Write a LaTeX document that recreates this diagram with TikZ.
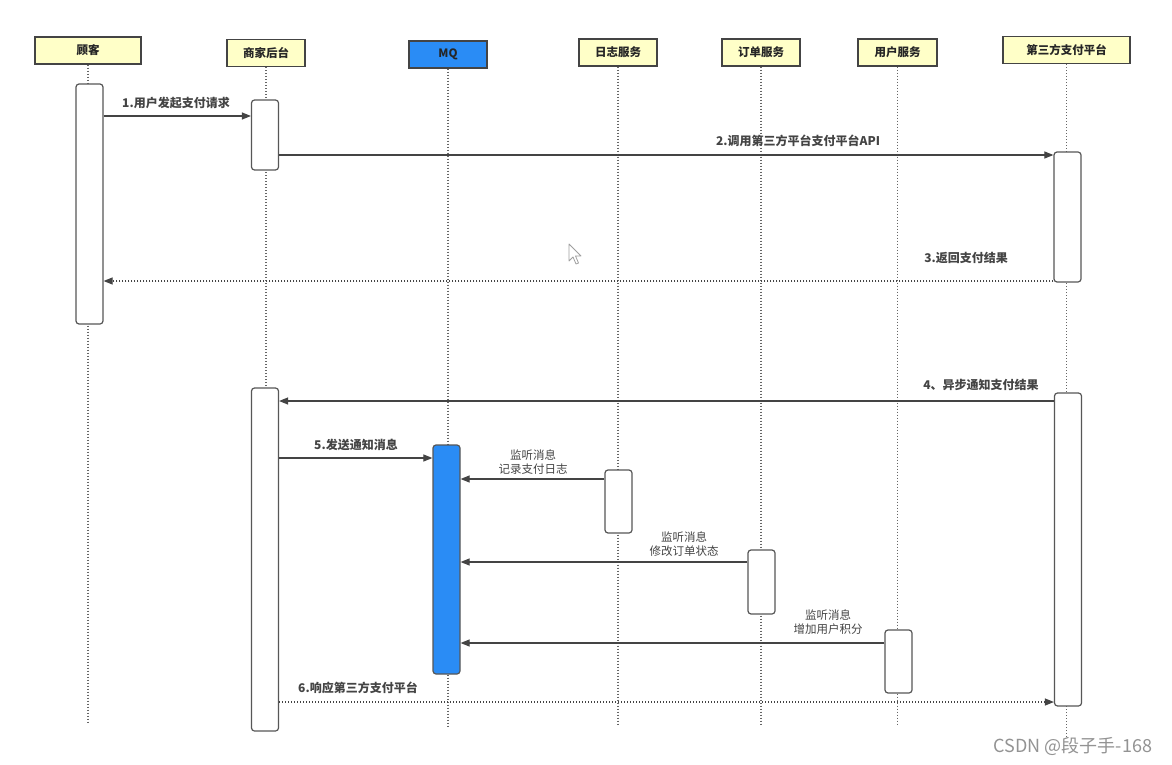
\documentclass[tikz,border=0pt]{standalone}
\usepackage{fontspec}
\setmainfont{Noto Sans CJK SC}
\usetikzlibrary{arrows.meta}
\definecolor{hdr}{HTML}{FFFFC8}
\definecolor{mqblue}{HTML}{2A8CF5}
\definecolor{ln}{HTML}{444444}
\definecolor{lifec}{HTML}{666666}
\begin{document}
\begin{tikzpicture}[x=1pt,y=-1pt,
  hdrbox/.style={draw=ln, line width=1.4pt, fill=hdr, minimum height=27pt, inner sep=0pt, font=\bfseries\fontsize{11.5}{13}\selectfont, text=black!85},
  actbox/.style={draw=ln!90, line width=1.2pt, fill=white, rounded corners=3pt, minimum width=27pt, inner sep=0pt},
  life/.style={draw=lifec, line width=1.1pt, dash pattern=on 1.1pt off 1.9pt},
  msg/.style={draw=ln, line width=1.1pt, -{Triangle[length=9pt,width=7pt]}},
  reply/.style={msg, dash pattern=on 1.1pt off 1.9pt},
  lbl/.style={font=\bfseries\fontsize{12}{14}\selectfont, text=ln, align=center, inner sep=0pt},
  lbln/.style={font=\fontsize{11.5}{14}\selectfont, text=ln, align=center, inner sep=0pt}]
\useasboundingbox (0,0) rectangle (1172,765);
\fill[white] (0,0) rectangle (1172,765);

% headers
\node[hdrbox, minimum width=106pt] (h1) at (88,50.5) {顾客};
\node[hdrbox, minimum width=78pt] (h2) at (266,53) {商家后台};
\node[hdrbox, minimum width=78pt, fill=mqblue] (h3) at (448,54.5) {MQ};
\node[hdrbox, minimum width=78pt] (h4) at (618,52.5) {日志服务};
\node[hdrbox, minimum width=78pt] (h5) at (761,52.5) {订单服务};
\node[hdrbox, minimum width=79pt] (h6) at (897.5,52.5) {用户服务};
\node[hdrbox, minimum width=127pt] (h7) at (1066.5,50) {第三方支付平台};

% lifeline ends
\coordinate (e1) at (h1.south |- 0,722);
\coordinate (e2) at (h2.south |- 0,722);
\coordinate (e3) at (h3.south |- 0,726);
\coordinate (e4) at (h4.south |- 0,724);
\coordinate (e5) at (h5.south |- 0,724);
\coordinate (e6) at (h6.south |- 0,724);
\coordinate (e7) at (h7.south |- 0,738);
\foreach \i in {1,...,7} {\draw[life] (h\i.south) -- (e\i);}

% activations
\node[actbox, minimum height=240pt] (a1) at (89.5,204) {};
\node[actbox, minimum height=70pt] (b1) at (265,135) {};
\node[actbox, minimum height=343pt] (b2) at (265,559.5) {};
\node[actbox, minimum height=130pt] (t1) at (1067.5,217) {};
\node[actbox, minimum height=313pt] (t2) at (1068,549.5) {};
\node[actbox, minimum height=229pt, fill=mqblue] (mq) at (446.5,559.5) {};
\node[actbox, minimum height=63pt] (lg) at (618.5,501.5) {};
\node[actbox, minimum height=64pt] (od) at (761.5,582) {};
\node[actbox, minimum height=63pt] (us) at (898.5,661.5) {};

% messages
\draw[msg] (a1.east |- 0,116) -- (b1.west |- 0,116);
\node[lbl] (l1) at (176,103) {1.用户发起支付请求};
\draw[msg] (b1.east |- 0,155) -- (t1.west |- 0,155);
\node[lbl] (l2) at (798,141) {2.调用第三方平台支付平台API};
\draw[reply] (t1.west |- 0,281) -- (a1.east |- 0,281);
\node[lbl] (l3) at (966,258) {3.返回支付结果};
\draw[msg] (t2.west |- 0,401) -- (b2.east |- 0,401);
\node[lbl] (l4) at (981,385) {4、异步通知支付结果};
\draw[msg] (b2.east |- 0,458) -- (mq.west |- 0,458);
\node[lbl] (l5) at (356,445) {5.发送通知消息};
\draw[msg] (lg.west |- 0,479) -- (mq.east |- 0,479);
\node[lbln] (l6) at (533,462) {监听消息\\记录支付日志};
\draw[msg] (od.west |- 0,562) -- (mq.east |- 0,562);
\node[lbln] (l7) at (684,544) {监听消息\\修改订单状态};
\draw[msg] (us.west |- 0,643) -- (mq.east |- 0,643);
\node[lbln] (l8) at (828,622) {监听消息\\增加用户积分};
\draw[reply] (b2.east |- 0,702) -- (t2.west |- 0,702);
\node[lbl] (l9) at (358,688) {6.响应第三方支付平台};

% mouse cursor
\draw[draw=gray!75, fill=white, line width=0.8pt, line join=round]
  (569,244) -- (569,261) -- (573,257) -- (576,264) -- (578.5,263) -- (575.5,256) -- (581,256) -- cycle;

% watermark
\node[font=\fontsize{18}{20}\selectfont, text=gray!85, inner sep=0pt] (wm) at (1073,746) {CSDN @段子手-168};
\end{tikzpicture}
\end{document}
